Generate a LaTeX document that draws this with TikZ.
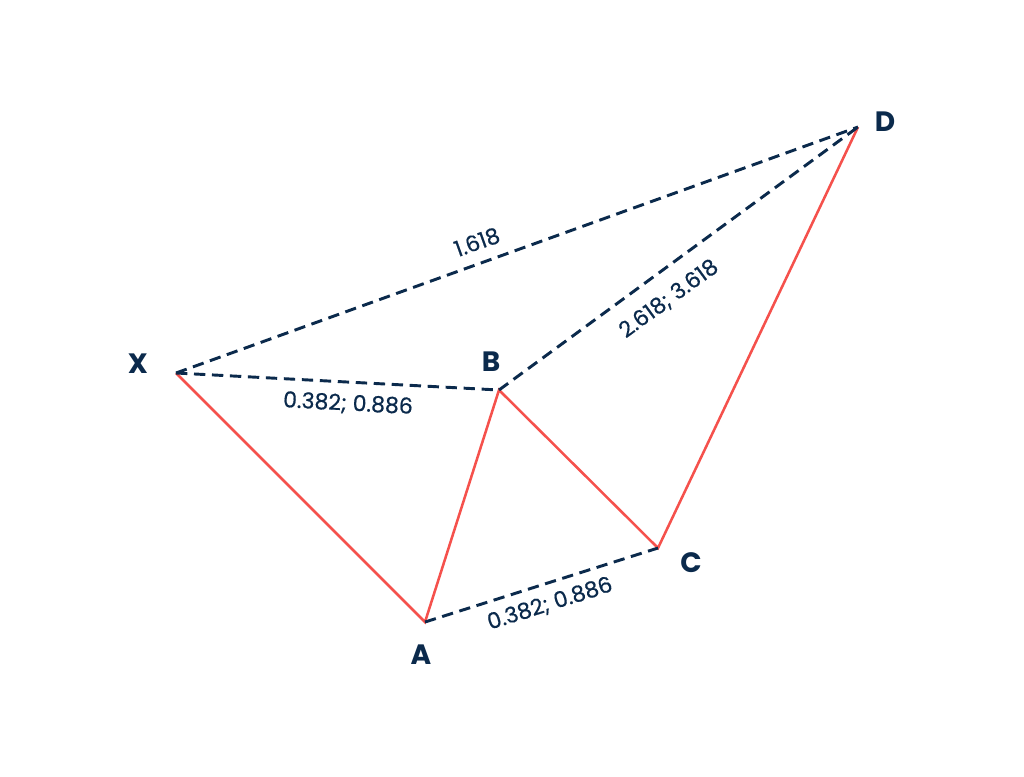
\documentclass[tikz,border=0pt]{standalone}
\usepackage{fontspec}
\setmainfont{Poppins}
\newfontfamily\numfont[FakeBold=0.6]{Poppins}
\definecolor{navy}{HTML}{0B2A4C}
\definecolor{redl}{HTML}{F5514C}
\begin{document}
\begin{tikzpicture}[x=0.75pt,y=-0.75pt,
  leg/.style={draw=redl,line width=1.9pt},
  ratio/.style={draw=navy,line width=2.2pt,dash pattern=on 8.5pt off 5pt},
  pt/.style={font=\bfseries\fontsize{21}{25}\selectfont,text=navy},
  num/.style={font=\numfont\fontsize{16.5}{19}\selectfont,text=navy,inner sep=0pt}]
\useasboundingbox (0,0) rectangle (1024,776);
\coordinate (X) at (176,373);
\coordinate (A) at (425,622);
\coordinate (B) at (499,390);
\coordinate (C) at (658,548);
\coordinate (D) at (858,127);
\draw[leg] (X) -- (A) -- (B) -- (C) -- (D);
\draw[ratio] (X) -- (D);
\draw[ratio] (X) -- (B);
\draw[ratio] (B) -- (D);
\draw[ratio] (A) -- (C);
\node[pt] (lX) at (138,364) {X};
\node[pt] (lA) at (421,655) {A};
\node[pt] (lB) at (491,362) {B};
\node[pt] (lC) at (691,563) {C};
\node[pt] (lD) at (885,122) {D};
\node[num,rotate=19.8] (n1) at (477,242) {1.618};
\node[num,rotate=-3] (n2) at (348,404) {0.382; 0.886};
\node[num,rotate=36.2] (n3) at (669,299) {2.618; 3.618};
\node[num,rotate=17.6] (n4) at (550,604) {0.382; 0.886};
\end{tikzpicture}
\end{document}
